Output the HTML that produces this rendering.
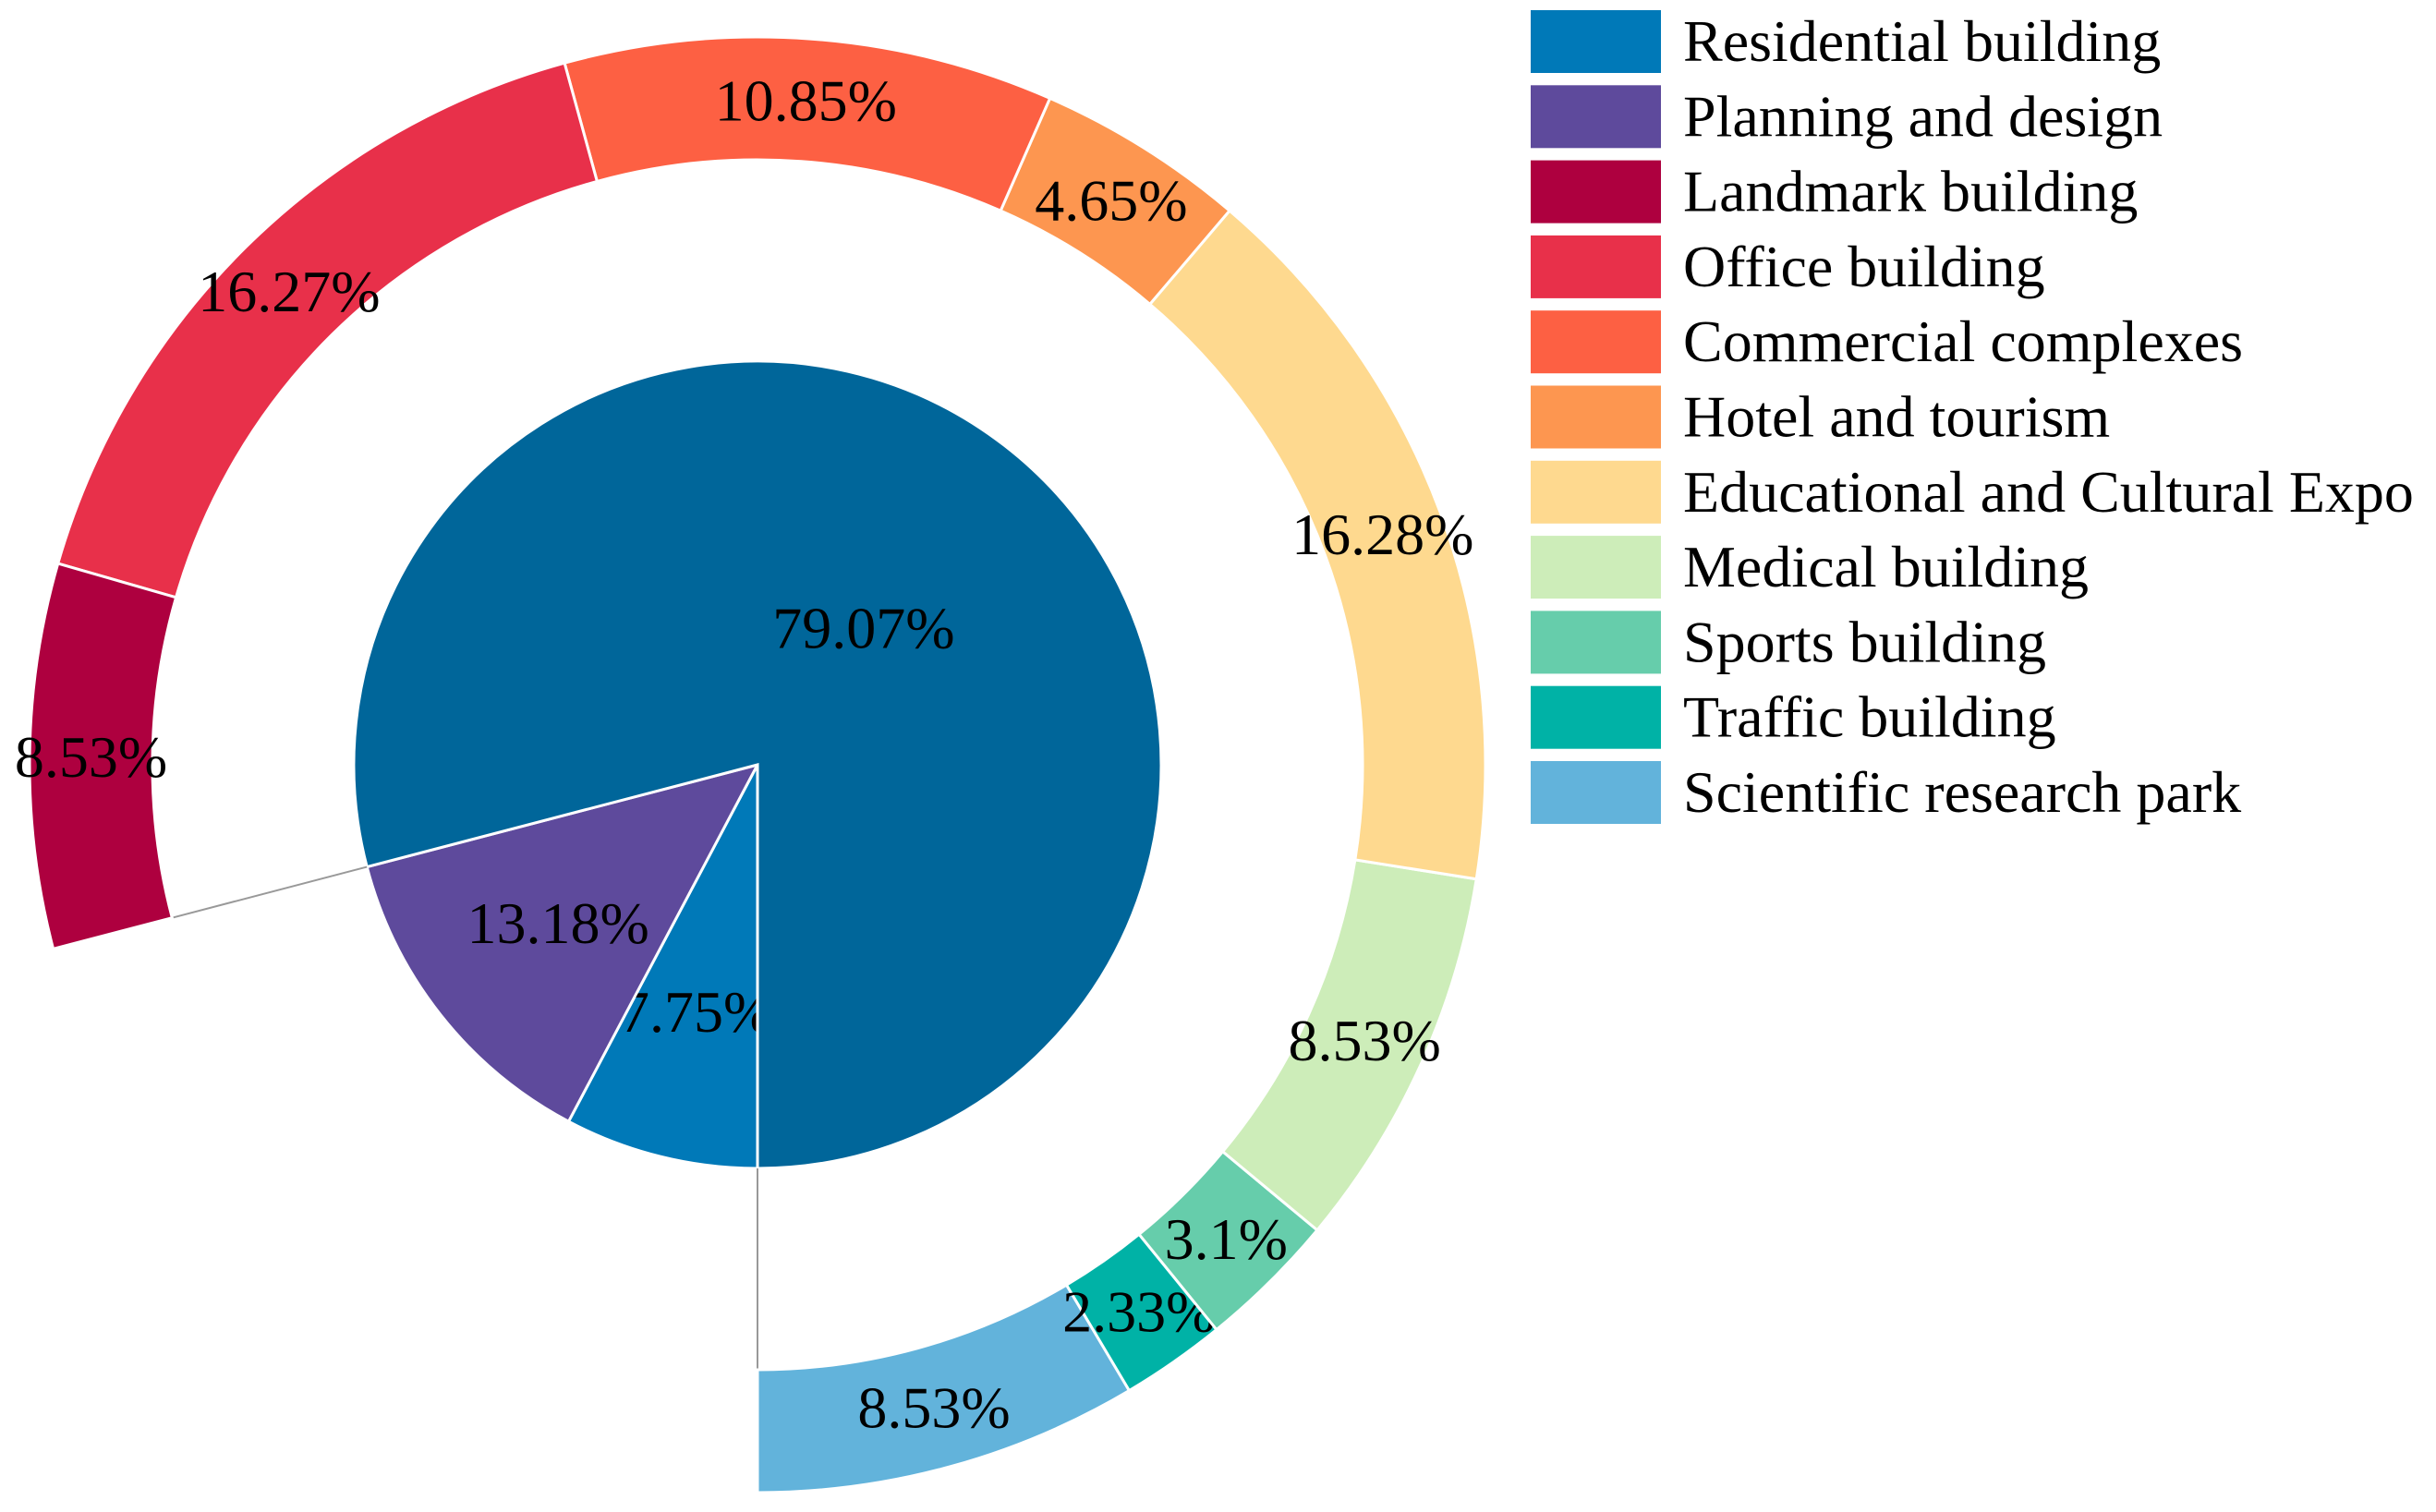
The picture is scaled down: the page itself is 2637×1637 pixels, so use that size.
<!DOCTYPE html>
<html><head><meta charset="utf-8"><style>
html,body{margin:0;padding:0;background:#fff;width:2637px;height:1637px;overflow:hidden}
svg text{font-family:"Liberation Serif",serif}
</style></head><body>
<svg id="chart" width="2637" height="1637" viewBox="0 0 2637 1637" xmlns="http://www.w3.org/2000/svg">
<g id="pie"></g>
<g id="ring"></g>
<g id="legend"></g>
</svg>
<script>
const pieLabels = ["Residential building","Planning and design","Scientific research park"];
const pieValues = [79.07, 13.18, 7.75];
const pieColors = ["#00669a","#5e4a9c","#0079b8"];
const ringLabels = ["Scientific research park","Traffic building","Sports building","Medical building","Educational and Cultural Expo","Hotel and tourism","Commercial complexes","Office building","Landmark building"];
const ringValues = [8.53, 2.33, 3.1, 8.53, 16.28, 4.65, 10.85, 16.27, 8.53];
const ringColors = ["#62b3db","#00b2a6","#66cdab","#cdedb9","#fed98f","#fd9650","#fd6043","#e8304a","#ae003f"];
const legendLabels = ["Residential building","Planning and design","Landmark building","Office building","Commercial complexes","Hotel and tourism","Educational and Cultural Expo","Medical building","Sports building","Traffic building","Scientific research park"];
const legendColors = ["#0079b8","#5e4a9c","#ae003f","#e8304a","#fd6043","#fd9650","#fed98f","#cdedb9","#66cdab","#00b2a6","#62b3db"];

const NS="http://www.w3.org/2000/svg";
const cx=820, cy=828, R=437, r1=655, r2=788;
const pt=(a,r)=>[cx+r*Math.cos(a*Math.PI/180), cy+r*Math.sin(a*Math.PI/180)];
const fmt=v=>v+"%";
function mk(tag,attrs,parent){const e=document.createElementNS(NS,tag);for(const k in attrs)e.setAttribute(k,attrs[k]);parent.appendChild(e);return e;}

// inner pie: start at 6 o'clock (90deg), going clockwise in screen for small slices
const pieG=document.getElementById('pie');
const tot=pieValues.reduce((a,b)=>a+b,0);
// order: small slices first from 90deg clockwise: last element starts at 90
let a=90;
const pieOrder=[2,1,0];
pieOrder.forEach(i=>{
  const sweep=pieValues[i]/tot*360;
  const a0=a,a1=a+sweep;
  const p0=pt(a0,R),p1=pt(a1,R);
  const large=sweep>180?1:0;
  const path=mk('path',{d:`M${cx},${cy} L${p0[0]},${p0[1]} A${R},${R} 0 ${large} 1 ${p1[0]},${p1[1]} Z`,fill:pieColors[i],stroke:'#fff','stroke-width':3},pieG);
  
  
  const mid=(a0+a1)/2;
  const lp=pt(mid,R*(sweep>180?0.43:0.63));
  const t=mk('text',{x:lp[0],y:lp[1]+22,'text-anchor':'middle','font-size':64,fill:'#000'},pieG);
  t.textContent=fmt(pieValues[i]);
  
  
  a=a1;
});

// ring: spans residential share, from 6 o'clock going counter-clockwise in screen
const ringG=document.getElementById('ring');
const ringTot=ringValues.reduce((s,v)=>s+v,0);
const span=pieValues[0]/tot*360;
let b=90;
// connector lines
[90, 90-span].forEach(ang=>{
  const p0=pt(ang,R),p1=pt(ang,r1);
  const l=mk('line',{x1:p0[0],y1:p0[1],x2:p1[0],y2:p1[1],stroke:'#999','stroke-width':2},ringG);
  
  
});
ringValues.forEach((v,i)=>{
  const sweep=v/ringTot*span;
  const a0=b,a1=b-sweep;
  const o0=pt(a0,r2),o1=pt(a1,r2),i1=pt(a1,r1),i0=pt(a0,r1);
  const large=sweep>180?1:0;
  const path=mk('path',{d:`M${o0[0]},${o0[1]} A${r2},${r2} 0 ${large} 0 ${o1[0]},${o1[1]} L${i1[0]},${i1[1]} A${r1},${r1} 0 ${large} 1 ${i0[0]},${i0[1]} Z`,fill:ringColors[i],stroke:'#fff','stroke-width':3},ringG);
  
  
  const lp=pt((a0+a1)/2,(r1+r2)/2);
  const t=mk('text',{x:lp[0],y:lp[1]+22,'text-anchor':'middle','font-size':64,fill:'#000'},ringG);
  t.textContent=fmt(v);
  
  
  b=a1;
});

// legend
const lg=document.getElementById('legend');
legendLabels.forEach((lab,i)=>{
  const y=11+i*81.3;
  const rc=mk('rect',{x:1657,y:y,width:141,height:68,fill:legendColors[i]},lg);
  
  
  const t=mk('text',{x:1822,y:y+55,'font-size':64,fill:'#000'},lg);
  t.textContent=lab;
  
  
});
</script>
</body></html>
